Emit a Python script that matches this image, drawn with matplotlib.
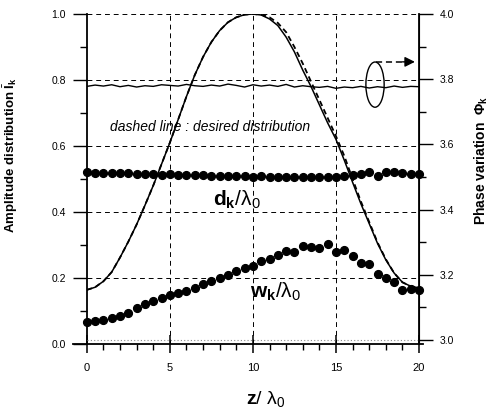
import numpy as np
import matplotlib
matplotlib.use("Agg")
import matplotlib.pyplot as plt
from matplotlib.patches import Ellipse
from matplotlib.ticker import MultipleLocator

plt.rcParams['font.family'] = ['Liberation Sans', 'DejaVu Sans']
plt.rcParams['mathtext.fontset'] = 'custom'
plt.rcParams['mathtext.rm'] = 'Liberation Sans'
plt.rcParams['mathtext.it'] = 'Liberation Sans:italic'
plt.rcParams['mathtext.bf'] = 'Liberation Sans:bold'

# ---------------- data ----------------
z = np.arange(0, 20.01, 0.5)

amplitude = [0.164, 0.172, 0.190, 0.218, 0.262, 0.310, 0.362, 0.420, 0.480, 0.545,
             0.610, 0.680, 0.750, 0.815, 0.870, 0.915, 0.950, 0.975, 0.990, 0.998,
             1.000, 0.997, 0.985, 0.965, 0.930, 0.885, 0.830, 0.780, 0.725, 0.670,
             0.620, 0.557, 0.490, 0.425, 0.365, 0.305, 0.255, 0.215, 0.187, 0.175, 0.170]

desired = [0.164, 0.172, 0.190, 0.218, 0.262, 0.310, 0.362, 0.420, 0.480, 0.545,
           0.610, 0.680, 0.750, 0.815, 0.870, 0.915, 0.950, 0.975, 0.990, 0.998,
           1.000, 0.998, 0.990, 0.973, 0.945, 0.900, 0.850, 0.795, 0.740, 0.685,
           0.630, 0.570, 0.500, 0.432, 0.370, 0.308, 0.257, 0.215, 0.187, 0.175, 0.170]

d_k = [0.520, 0.519, 0.519, 0.518, 0.518, 0.517, 0.516, 0.516, 0.514, 0.513,
       0.514, 0.512, 0.512, 0.511, 0.511, 0.510, 0.509, 0.509, 0.508, 0.508,
       0.507, 0.508, 0.506, 0.506, 0.505, 0.505, 0.506, 0.505, 0.505, 0.506,
       0.505, 0.510, 0.513, 0.515, 0.520, 0.508, 0.522, 0.521, 0.519, 0.516, 0.516]

w_k = [0.068, 0.070, 0.073, 0.078, 0.085, 0.095, 0.110, 0.120, 0.130, 0.138,
       0.150, 0.156, 0.161, 0.171, 0.181, 0.190, 0.200, 0.208, 0.221, 0.231,
       0.236, 0.252, 0.258, 0.269, 0.283, 0.280, 0.297, 0.295, 0.292, 0.302,
       0.278, 0.285, 0.267, 0.247, 0.243, 0.212, 0.200, 0.188, 0.165, 0.168, 0.165]

phase = [3.778, 3.782, 3.779, 3.783, 3.777, 3.781, 3.776, 3.780, 3.778, 3.783,
         3.781, 3.779, 3.784, 3.780, 3.778, 3.782, 3.779, 3.785, 3.781, 3.776,
         3.783, 3.779, 3.782, 3.778, 3.784, 3.776, 3.780, 3.777, 3.775, 3.778,
         3.772, 3.776, 3.774, 3.778, 3.773, 3.777, 3.774, 3.779, 3.775, 3.778, 3.777]

x_ticks = [0, 5, 10, 15, 20]
left_ticks = [0.0, 0.2, 0.4, 0.6, 0.8, 1.0]
right_ticks = [3.0, 3.2, 3.4, 3.6, 3.8, 4.0]

# ---------------- figure ----------------
fig = plt.figure(figsize=(4.93, 4.12), dpi=100)
ax = fig.add_axes([0.176, 0.165, 0.674, 0.801])
ax2 = ax.twinx()

ax.set_xlim(0, 20)
ax.set_ylim(0, 1.0)
ax2.set_ylim(2.9877, 4.0)

# grid
for yv in left_ticks[1:]:
    ax.axhline(yv, color='k', lw=0.7, ls=(0, (5, 4)), zorder=1)
for xv in x_ticks[1:-1]:
    ax.axvline(xv, color='k', lw=0.7, ls=(0, (5, 4)), zorder=1)
ax2.axhline(3.0, color='0.55', lw=0.8, ls=(0, (1, 2)), zorder=1)

# curves
ax.plot(z, amplitude, color='k', lw=1.1, zorder=3)
ax.plot(z, desired, color='k', lw=1.3, ls=(0, (3, 2)), zorder=3)
ax.plot(z, d_k, 'o', color='k', ms=5.6, clip_on=False, zorder=4)
ax.plot(z, w_k, 'o', color='k', ms=5.6, clip_on=False, zorder=4)
ax2.plot(z, phase, color='k', lw=1.0, zorder=3)

# ellipse + arrow annotation
ax.add_patch(Ellipse((17.35, 0.786), 1.1, 0.137, fill=False, ec='k', lw=1.0, zorder=5))
ax.plot([17.4, 19.1], [0.855, 0.855], color='k', lw=1.1, ls=(0, (4, 2.5)), zorder=5)
ax.annotate('', xy=(19.75, 0.855), xytext=(19.0, 0.855),
            arrowprops=dict(arrowstyle='-|>', mutation_scale=15, color='k', lw=1.0,
                            shrinkA=0, shrinkB=0), zorder=5)

# texts
ax.text(1.4, 0.657, 'dashed line : desired distribution', style='italic',
        fontsize=10, ha='left', va='center', zorder=6)
ax.text(7.6, 0.436, r'$\mathbf{d}_\mathbf{k}/\mathrm{\lambda}_0$', fontsize=15,
        ha='left', va='center', zorder=6)
ax.text(9.8, 0.158, r'$\mathbf{w}_\mathbf{k}/\mathrm{\lambda}_0$', fontsize=15,
        ha='left', va='center', zorder=6)

# spines
for a in (ax, ax2):
    a.spines['top'].set_visible(False)
ax.spines['left'].set_linewidth(1.3)
ax.spines['bottom'].set_linewidth(1.3)
ax2.spines['right'].set_linewidth(1.3)
ax2.spines['left'].set_visible(False)
ax2.spines['bottom'].set_visible(False)
ax.spines['bottom'].set_bounds(-0.85, 20.25)

# ticks
ax.set_xticks(x_ticks)
ax.set_xticklabels([str(v) for v in x_ticks])
ax.xaxis.set_minor_locator(MultipleLocator(1))
ax.tick_params(axis='x', which='major', direction='inout', length=13, width=1.1,
               pad=7, labelsize=8, top=False)
ax.tick_params(axis='x', which='minor', direction='out', length=4.5, width=1.0, top=False)

ax.set_yticks(left_ticks)
ax.set_yticklabels(['%.1f' % v for v in left_ticks])
ax.yaxis.set_minor_locator(MultipleLocator(0.1))
ax.tick_params(axis='y', which='major', direction='out', length=10, width=1.0,
               pad=5, labelsize=7.5, right=False)
ax.tick_params(axis='y', which='minor', direction='out', length=5, width=1.0, right=False)

ax2.set_yticks(right_ticks)
ax2.set_yticklabels(['%.1f' % v for v in right_ticks])
ax2.yaxis.set_minor_locator(MultipleLocator(0.1))
ax2.tick_params(axis='y', which='major', direction='out', length=10, width=1.0,
                pad=5, labelsize=7.5)
ax2.tick_params(axis='y', which='minor', direction='out', length=5, width=1.0)

# axis labels
ax.set_xlabel(r'$\mathbf{z}/\ \mathrm{\lambda}_0$', fontsize=14)
ax.xaxis.set_label_coords(0.54, -0.135)
ax.set_ylabel(r'Amplitude distribution $\bar{\mathbf{I}}_\mathbf{k}$',
              fontsize=9.5, fontweight='bold')
ax.yaxis.set_label_coords(-0.2, 0.573)
ax2.set_ylabel(r'Phase variation  $\mathbf{\Phi}_\mathbf{k}$', fontsize=10,
               fontweight='bold', rotation=90)
ax2.yaxis.set_label_coords(1.16, 0.557)

fig.savefig('out.png', dpi=100)
